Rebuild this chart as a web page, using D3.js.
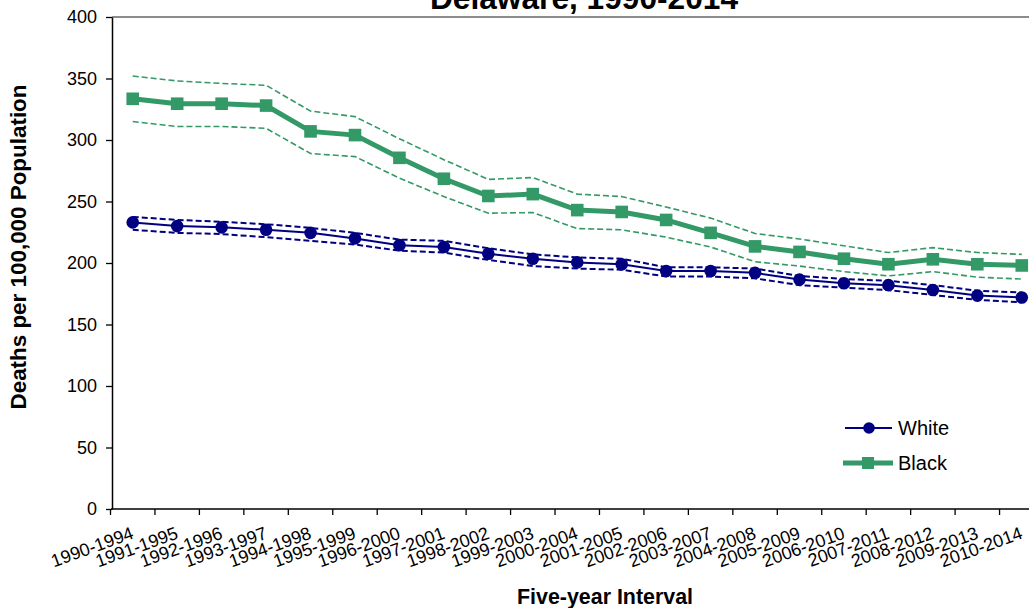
<!DOCTYPE html>
<html>
<head>
<meta charset="utf-8">
<script src="https://cdn.jsdelivr.net/npm/d3@7"></script>
<style>
  html, body { margin: 0; padding: 0; background: #fff; }
  svg { display: block; font-family: "Liberation Sans", Arial, sans-serif; }
</style>
</head>
<body>
<svg id="chart" width="1029" height="608"></svg>
<script>
const categories = ["1990-1994","1991-1995","1992-1996","1993-1997","1994-1998","1995-1999","1996-2000","1997-2001","1998-2002","1999-2003","2000-2004","2001-2005","2002-2006","2003-2007","2004-2008","2005-2009","2006-2010","2007-2011","2008-2012","2009-2013","2010-2014"];
const white      = [233, 230, 229, 227, 224.5, 220, 214.5, 213, 207.5, 203.5, 200.5, 199, 193.5, 193.5, 192, 186.5, 183.5, 182, 178, 173.5, 172];
const whiteUpper = [237.5, 235, 233.5, 231.5, 228.5, 224.5, 219, 218, 212, 207, 204.5, 203.5, 196.5, 196.5, 195.5, 189.5, 187, 185.5, 182, 177.5, 176];
const whiteLower = [227, 224.5, 223.5, 221, 218, 215, 210, 208.5, 202.5, 197.5, 195.5, 194.5, 189, 189, 187.5, 182, 180, 178, 174, 170, 168];
const black      = [333.5, 329.5, 329.5, 328, 307, 304, 285.5, 268.5, 254.5, 256, 243, 241.5, 235, 224.5, 213.5, 209, 203.5, 199, 203, 199, 198];
const blackUpper = [352, 348, 346, 344.5, 323.5, 319, 301, 284, 268, 269.5, 256, 254, 245.5, 236.5, 224, 219.5, 214, 208.5, 212.5, 208.5, 207];
const blackLower = [315, 311, 311, 309.5, 289, 286.5, 269, 254, 240.5, 241, 228, 227, 221, 213, 201, 197.5, 193, 189.5, 193, 188.5, 187];
const yTicks = [0, 50, 100, 150, 200, 250, 300, 350, 400];
const titleText = "Delaware, 1990-2014";
const yLabel = "Deaths per 100,000 Population";
const xLabel = "Five-year  Interval";
const seriesNames = ["White", "Black"];

const navy = "#000080", green = "#339966";
const svg = d3.select("#chart");

const x = d3.scaleBand().domain(categories).range([110.5, 1044]).padding(0);
const y = d3.scaleLinear().domain([0, 400]).range([509, 17]);
const cx = d => x(d) + x.bandwidth() / 2;

// top plot border
svg.append("line").attr("x1", 112).attr("x2", 1029).attr("y1", y(400)).attr("y2", y(400))
  .attr("stroke", "#8c8c8c").attr("stroke-width", 2);

// Title (cut off at top)
svg.append("text").attr("x", 584).attr("y", 9).attr("text-anchor", "middle")
  .attr("font-size", 31).attr("font-weight", "bold").attr("textLength", 308)
  .attr("lengthAdjust", "spacingAndGlyphs").text(titleText);

// y axis
const yAxis = svg.append("g").attr("transform", "translate(112,0)")
  .call(d3.axisLeft(y).tickValues(yTicks).tickSize(6).tickPadding(9).tickSizeOuter(0));
yAxis.select(".domain").attr("stroke", "#000").attr("stroke-width", 1.5);
yAxis.selectAll(".tick line").attr("stroke", "#000").attr("stroke-width", 1.3);
yAxis.selectAll("text").attr("font-size", 18).attr("fill", "#000")
  .attr("font-family", "'Liberation Sans', Arial, sans-serif");

// x axis line
svg.append("line").attr("x1", 111).attr("x2", 1029).attr("y1", y(0)).attr("y2", y(0))
  .attr("stroke", "#000").attr("stroke-width", 1.5);
// x ticks at category boundaries
svg.append("g").selectAll("line").data(categories).join("line")
  .attr("x1", d => x(d)).attr("x2", d => x(d)).attr("y1", y(0)).attr("y2", y(0) + 6)
  .attr("stroke", "#000").attr("stroke-width", 1.3);
// x tick labels
svg.append("g").selectAll("text").data(categories).join("text")
  .attr("transform", d => `translate(${cx(d) + 2},${y(0) + 29}) rotate(-20)`)
  .attr("text-anchor", "end").attr("font-size", 18).attr("fill", "#000").text(d => d);

// axis titles
svg.append("text").attr("transform", "translate(26,247) rotate(-90)")
  .attr("text-anchor", "middle").attr("font-size", 22.5).attr("font-weight", "bold")
  .attr("textLength", 325).attr("lengthAdjust", "spacingAndGlyphs").text(yLabel);
svg.append("text").attr("x", 605).attr("y", 604).attr("text-anchor", "middle")
  .attr("font-size", 22).attr("font-weight", "bold")
  .attr("textLength", 176).attr("lengthAdjust", "spacingAndGlyphs").text(xLabel);

const line = d3.line().x((d, i) => cx(categories[i])).y(d => y(d));

// CI dashed lines
[[whiteUpper, navy, 2, "6,3"], [whiteLower, navy, 2, "6,3"], [blackUpper, green, 1.6, "6,3"], [blackLower, green, 1.6, "6,3"]]
  .forEach(([arr, col, w, dash]) => {
    svg.append("path").datum(arr).attr("d", line).attr("fill", "none")
      .attr("stroke", col).attr("stroke-width", w).attr("stroke-dasharray", dash);
  });

// White series
svg.append("path").datum(white).attr("d", line).attr("fill", "none").attr("stroke", navy).attr("stroke-width", 2);
svg.append("g").selectAll("circle").data(white).join("circle")
  .attr("cx", (d, i) => cx(categories[i])).attr("cy", d => y(d)).attr("r", 6.3).attr("fill", navy);

// Black series
svg.append("path").datum(black).attr("d", line).attr("fill", "none").attr("stroke", green).attr("stroke-width", 5);
svg.append("g").selectAll("rect").data(black).join("rect")
  .attr("x", (d, i) => cx(categories[i]) - 6.3).attr("y", d => y(d) - 6.3)
  .attr("width", 12.6).attr("height", 12.6).attr("fill", green);

// Legend
const lg = svg.append("g");
lg.append("line").attr("x1", 845).attr("x2", 892).attr("y1", 428).attr("y2", 428).attr("stroke", navy).attr("stroke-width", 2);
lg.append("circle").attr("cx", 869).attr("cy", 428).attr("r", 5.8).attr("fill", navy);
lg.append("text").attr("x", 898).attr("y", 435).attr("font-size", 20).text(seriesNames[0]);
lg.append("line").attr("x1", 843).attr("x2", 893).attr("y1", 463).attr("y2", 463).attr("stroke", green).attr("stroke-width", 5);
lg.append("rect").attr("x", 862).attr("y", 457).attr("width", 12).attr("height", 12).attr("fill", green);
lg.append("text").attr("x", 898).attr("y", 470).attr("font-size", 20).text(seriesNames[1]);
</script>
</body>
</html>
